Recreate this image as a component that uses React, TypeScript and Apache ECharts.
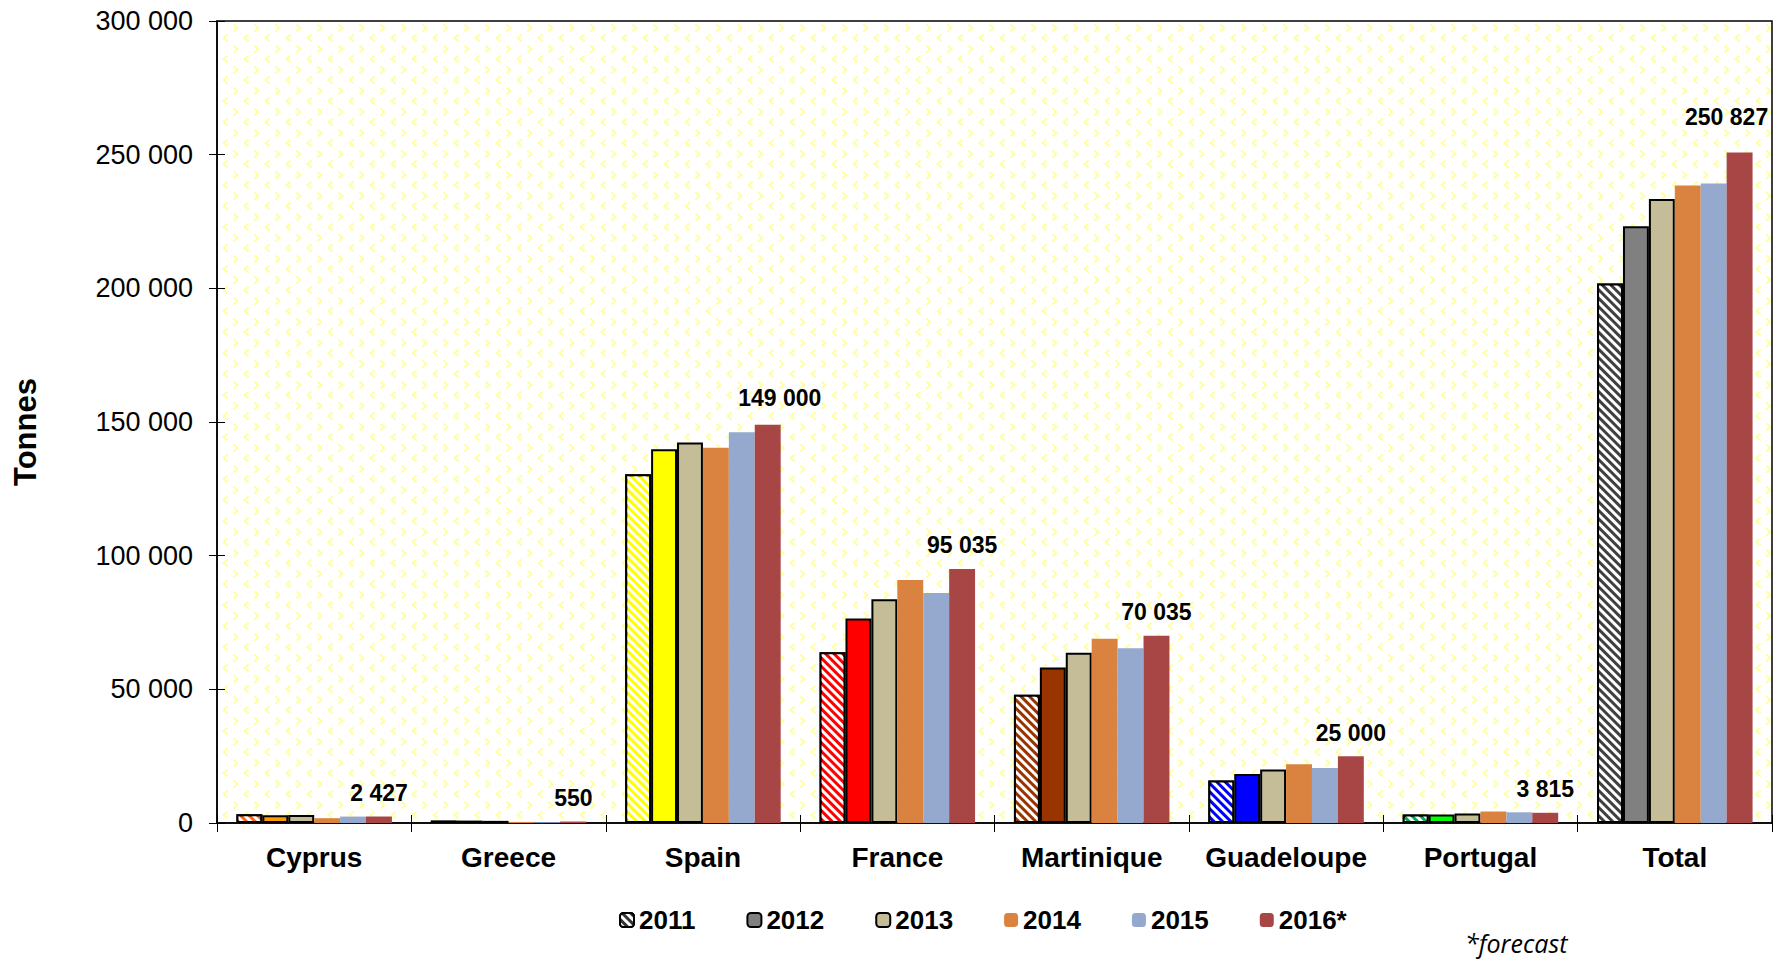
import React, { useEffect, useRef } from "react";
import * as echarts from "echarts";

const categories = ["Cyprus", "Greece", "Spain", "France", "Martinique", "Guadeloupe", "Portugal", "Total"];
const years = ["2011", "2012", "2013", "2014", "2015", "2016*"];

const v2011 = [3300, 900, 130500, 63900, 48000, 15900, 3200, 201800];
const v2012 = [2900, 900, 139800, 76500, 58200, 18300, 3200, 223200];
const v2013 = [3000, 800, 142300, 83700, 63700, 20000, 3600, 233400];
const v2014 = [1800, 400, 140400, 90900, 68900, 22000, 4300, 238500];
const v2015 = [2400, 300, 146200, 86000, 65400, 20600, 4000, 239200];
const v2016 = [2427, 550, 149000, 95035, 70035, 25000, 3815, 250827];

const countryColors = ["#FF9900", "#1A1A1A", "#FFFF00", "#FF0000", "#993300", "#0000FF", "#00FF00", "#808080"];
const hatchColors = ["#FF6A1A", "#1A1A1A", "#FFFF00", "#FF0000", "#993300", "#0000FF", "#00B050", "#404040"];
// label nudges (style only) for the 2016 value labels
const labelNudge: [number, number][] = [[0, 0], [0, 0], [12, -3], [0, 0], [0, 0], [0, 0], [0, 0], [-13, -12]];

const yTicks = { min: 0, max: 300000, interval: 50000 };

const fmt = (v: number) => String(v).replace(/\B(?=(\d{3})+(?!\d))/g, " ");

const FONT = "'Liberation Sans', Arial, sans-serif";

const hatchDecal = {
  symbol: "rect",
  symbolSize: 1,
  color: "#FFFFFF",
  dashArrayX: [1, 0],
  dashArrayY: [3, 3],
  rotation: Math.PI / 4,
};

const tileSvg =
  '<svg xmlns="http://www.w3.org/2000/svg" width="21" height="21">' +
  '<g fill="none" stroke="#FFFFA0" stroke-width="2" stroke-linecap="round" stroke-linejoin="round">' +
  '<polyline points="3,4 6.5,7 3,10"/>' +
  '<polyline points="17,14 13.5,17 17,20"/>' +
  "</g></svg>";
const tileUrl = "data:image/svg+xml;charset=utf-8," + encodeURIComponent(tileSvg);

export default function App() {
  const ref = useRef<HTMLDivElement>(null);

  useEffect(() => {
    if (!ref.current) return;
    const chart = echarts.init(ref.current, null, { renderer: "svg" });

    const makeSeries = () => {
      const all = [v2011, v2012, v2013, v2014, v2015, v2016];
      const fixedColors = [null, null, "#C4BD97", "#DA8340", "#95A9CF", "#A84646"];
      return all.map((vals, yi) => {
        let data: any[];
        let itemStyle: any;
        if (yi === 0) {
          itemStyle = { color: "#333333", borderColor: "#000", borderWidth: 2, decal: hatchDecal };
          data = vals.map((v, ci) => ({
            value: v,
            itemStyle: { color: hatchColors[ci], borderColor: "#000", borderWidth: 2, decal: hatchDecal },
          }));
        } else if (yi === 1) {
          itemStyle = { color: "#808080", borderColor: "#000", borderWidth: 2 };
          data = vals.map((v, ci) => ({
            value: v,
            itemStyle: { color: countryColors[ci], borderColor: "#000", borderWidth: 2 },
          }));
        } else if (yi === 2) {
          itemStyle = { color: fixedColors[yi], borderColor: "#000", borderWidth: 2 };
          data = vals.slice();
        } else if (yi === 5) {
          itemStyle = { color: fixedColors[yi], borderWidth: 0 };
          data = vals.map((v, ci) => ({ value: v, label: { offset: labelNudge[ci] } }));
        } else {
          itemStyle = { color: fixedColors[yi], borderWidth: 0 };
          data = vals.slice();
        }
        const s: any = {
          name: years[yi],
          type: "bar",
          xAxisIndex: 0,
          yAxisIndex: 0,
          barGap: "0%",
          barCategoryGap: "20%",
          itemStyle,
          data,
          emphasis: { disabled: true },
        };
        if (yi === 5) {
          s.label = {
            show: true,
            position: "top",
            distance: 12,
            formatter: (p: any) => fmt(p.value),
            color: "#000",
            fontFamily: FONT,
            fontWeight: "bold",
            fontSize: 23,
          };
        }
        return s;
      });
    };

    const option: any = {
      animation: false,
      backgroundColor: "#FFFFFF",
      grid: {
        left: 217,
        right: 9,
        top: 21,
        bottom: 138,
        containLabel: false,
        show: true,
        borderColor: "#000",
        borderWidth: 1.5,
        backgroundColor: { image: tileUrl, repeat: "repeat", imageWidth: 21, imageHeight: 21 },
      },
      legend: {
        data: years,
        left: 619,
        top: 906,
        padding: 0,
        itemWidth: 14,
        itemHeight: 14,
        itemGap: 51,
        selectedMode: false,
        textStyle: { fontFamily: FONT, fontWeight: "bold", fontSize: 26, color: "#000", lineHeight: 28 },
      },
      xAxis: [
        {
          type: "category",
          data: categories,
          position: "bottom",
          axisLine: { show: true, lineStyle: { color: "#000", width: 1.5 } },
          axisTick: { show: true, length: 9, lineStyle: { color: "#000" } },
          axisLabel: {
            interval: 0,
            margin: 20,
            color: "#000",
            fontFamily: FONT,
            fontWeight: "bold",
            fontSize: 28,
          },
          splitLine: { show: false },
        },
        {
          type: "category",
          data: categories,
          position: "bottom",
          axisLine: { show: false },
          axisTick: { show: true, inside: true, length: 8, lineStyle: { color: "#000" } },
          axisLabel: { show: false },
          splitLine: { show: false },
        },
      ],
      yAxis: [
        {
          type: "value",
          min: yTicks.min,
          max: yTicks.max,
          interval: yTicks.interval,
          position: "left",
          axisLine: { show: true, lineStyle: { color: "#000", width: 1.5 } },
          axisTick: { show: true, length: 8, lineStyle: { color: "#000" } },
          axisLabel: {
            margin: 24,
            color: "#000",
            fontFamily: FONT,
            fontSize: 27,
            formatter: (v: number) => fmt(v),
          },
          splitLine: { show: false },
        },
        {
          type: "value",
          min: yTicks.min,
          max: yTicks.max,
          interval: yTicks.interval,
          position: "left",
          axisLine: { show: false },
          axisTick: { show: true, inside: true, length: 8, lineStyle: { color: "#000" } },
          axisLabel: { show: false },
          splitLine: { show: false },
        },
      ],
      graphic: [
        {
          type: "text",
          x: 25,
          y: 432,
          rotation: Math.PI / 2,
          style: {
            text: "Tonnes",
            align: "center",
            verticalAlign: "middle",
            fill: "#000",
            font: "bold 31px 'Liberation Sans', Arial, sans-serif",
          },
        },
        {
          type: "text",
          x: 1465,
          y: 943,
          style: {
            text: "*forecast",
            align: "left",
            verticalAlign: "middle",
            fill: "#000",
            font: "italic 25px 'Open Sans', sans-serif",
          },
        },
      ],
      series: makeSeries(),
    };

    chart.setOption(option);
    return () => chart.dispose();
  }, []);

  return (
    <div
      ref={ref}
      style={{ position: "fixed", left: 0, top: 0, width: 1781, height: 961 }}
    />
  );
}
